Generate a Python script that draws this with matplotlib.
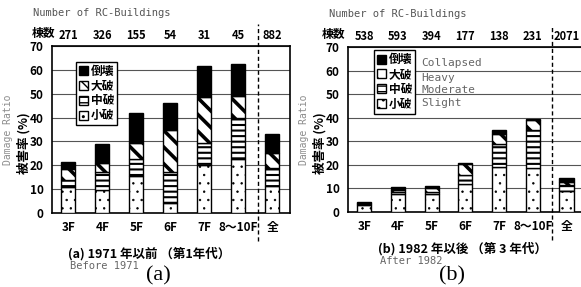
import matplotlib
matplotlib.use("Agg")
import matplotlib.pyplot as plt
import matplotlib.transforms as mtransforms

plt.rcParams['font.family'] = ['Noto Sans CJK JP', 'DejaVu Sans']

# categories and counts
floors = ['3F', '4F', '5F', '6F', '7F', '8～10F', '全']
counts_a = [271, 326, 155, 54, 31, 45, 882]
counts_b = [538, 593, 394, 177, 138, 231, 2071]

# damage ratio (%) per level, (a) before 1971
slight_a = [11, 9.5, 15.5, 4, 20, 22.5, 11.5]
moderate_a = [3, 7.5, 7, 13, 9.5, 17.5, 7.5]
heavy_a = [4.5, 4, 7, 18, 19, 9, 6]
collapsed_a = [3, 8, 12.5, 11, 13, 13.5, 8]

# (b) after 1982
slight_b = [2.8, 7.5, 7.5, 12, 19, 18.5, 8.8]
moderate_b = [0.5, 1, 1, 3.5, 10, 16.5, 2.5]
heavy_b = [0.4, 0.7, 1.8, 4.8, 4, 4, 1.5]
collapsed_b = [0.6, 1.3, 0.7, 0.3, 2, 0.5, 1.7]

levels_jp = ['小破', '中破', '大破', '倒壊']
levels_en = ['Slight', 'Moderate', 'Heavy', 'Collapsed']
gray = '#8c8c8c'
mono = 'DejaVu Sans Mono'

fig = plt.figure(figsize=(5.81, 2.87), dpi=100)
W, H = 581.0, 287.0


def draw_panel(rect, series, counts, caption, caption_en, tag, tag_x,
               legend_at, english, label_x):
    ax = fig.add_axes(rect)
    x = list(range(len(floors)))
    styles = [(dict(color='white', hatch='..'), 0.5),
              (dict(color='white', hatch='---'), 1.5),
              (dict(color='white', hatch='\\\\'), 2.6),
              (dict(color='black', hatch=None), 1.0)]
    bottom = [0.0] * len(floors)
    handles = []
    for vals, (st, hlw), lab in zip(series, styles, levels_jp):
        with plt.rc_context({'hatch.linewidth': hlw}):
            b = ax.bar(x, vals, width=0.42, bottom=bottom, edgecolor='black',
                       linewidth=1.0, zorder=3, label=lab, **st)
        handles.append(b)
        bottom = [bo + v for bo, v in zip(bottom, vals)]

    ax.set_xlim(-0.48, 6.52)
    ax.set_ylim(0, 70)
    ax.set_yticks(range(0, 71, 10))
    ax.set_xticks(x)
    ax.set_xticklabels(floors, fontsize=8.5, fontweight='bold')
    ax.tick_params(length=0, pad=6)
    for t in ax.get_yticklabels():
        t.set_fontsize(8.5)
        t.set_fontweight('bold')
    ax.grid(axis='y', color='#555555', linewidth=0.8, zorder=0)
    for s in ax.spines.values():
        s.set_linewidth(1.2)

    # divider before the total column
    ax.axvline(5.57, ymin=-0.17, ymax=1.13, color='black', linestyle=(0, (3, 2)),
               linewidth=1.0, clip_on=False, zorder=4)

    # building counts above the axes
    tr = mtransforms.blended_transform_factory(ax.transData, ax.transAxes)
    for xi, c in zip(x, counts):
        ax.text(xi, 1.065, str(c), transform=tr, ha='center', va='center',
                fontsize=8, fontweight='bold')
    ax.text(label_x, 1.075, '棟数', transform=ax.transAxes, ha='center',
            va='center', fontsize=8.5, fontweight='bold')
    ax.text(-0.08, 1.2, 'Number of RC-Buildings', transform=ax.transAxes,
            ha='left', va='center', fontsize=7.5, color='#555555', family=mono)

    # y label
    ax.text(-0.12, 0.42, '被害率 (%)', transform=ax.transAxes, rotation=90,
            ha='center', va='center', fontsize=9, fontweight='bold')
    ax.text(-0.185, 0.5, 'Damage Ratio', transform=ax.transAxes, rotation=90,
            ha='center', va='center', fontsize=7, color=gray, family=mono)

    leg = ax.legend(handles=handles[::-1], loc='upper left',
                    bbox_to_anchor=legend_at, fontsize=8.5, handlelength=0.8,
                    handleheight=0.8, handletextpad=0.2, labelspacing=0.15,
                    borderpad=0.25, borderaxespad=0, fancybox=False,
                    edgecolor='black', framealpha=1)
    leg.get_frame().set_linewidth(1.0)
    leg.set_zorder(5)
    for t in leg.get_texts():
        t.set_fontweight('bold')

    if english:
        ys = [0.9, 0.81, 0.74, 0.66]
        for yy, lab in zip(ys, levels_en[::-1]):
            ax.text(0.31, yy, lab, transform=ax.transAxes, ha='left',
                    va='center', fontsize=8, color='#666666', family=mono)

    # captions below
    fig.text(caption[1] / W, 1 - caption[2] / H, caption[0], ha='left',
             va='center', fontsize=9, fontweight='bold')
    fig.text(caption_en[1] / W, 1 - caption_en[2] / H, caption_en[0],
             ha='left', va='center', fontsize=7.5, color='#666666', family=mono)
    fig.text(tag_x / W, 1 - 276 / H, tag, ha='center', va='center',
             fontsize=16, family='Liberation Serif')
    return ax


draw_panel([52 / W, 74 / H, 238 / W, 167 / H],
           [slight_a, moderate_a, heavy_a, collapsed_a], counts_a,
           ('(a) 1971 年以前 （第1年代）', 68, 254),
           ('Before 1971', 70, 266), '(a)', 158,
           (0.1, 0.905), False, -0.035)

draw_panel([348 / W, 75 / H, 236 / W, 165 / H],
           [slight_b, moderate_b, heavy_b, collapsed_b], counts_b,
           ('(b) 1982 年以後 （第 3 年代）', 378, 249),
           ('After 1982', 380, 261), '(b)', 452,
           (0.11, 0.98), True, -0.06)

fig.savefig('out.png', dpi=100)
